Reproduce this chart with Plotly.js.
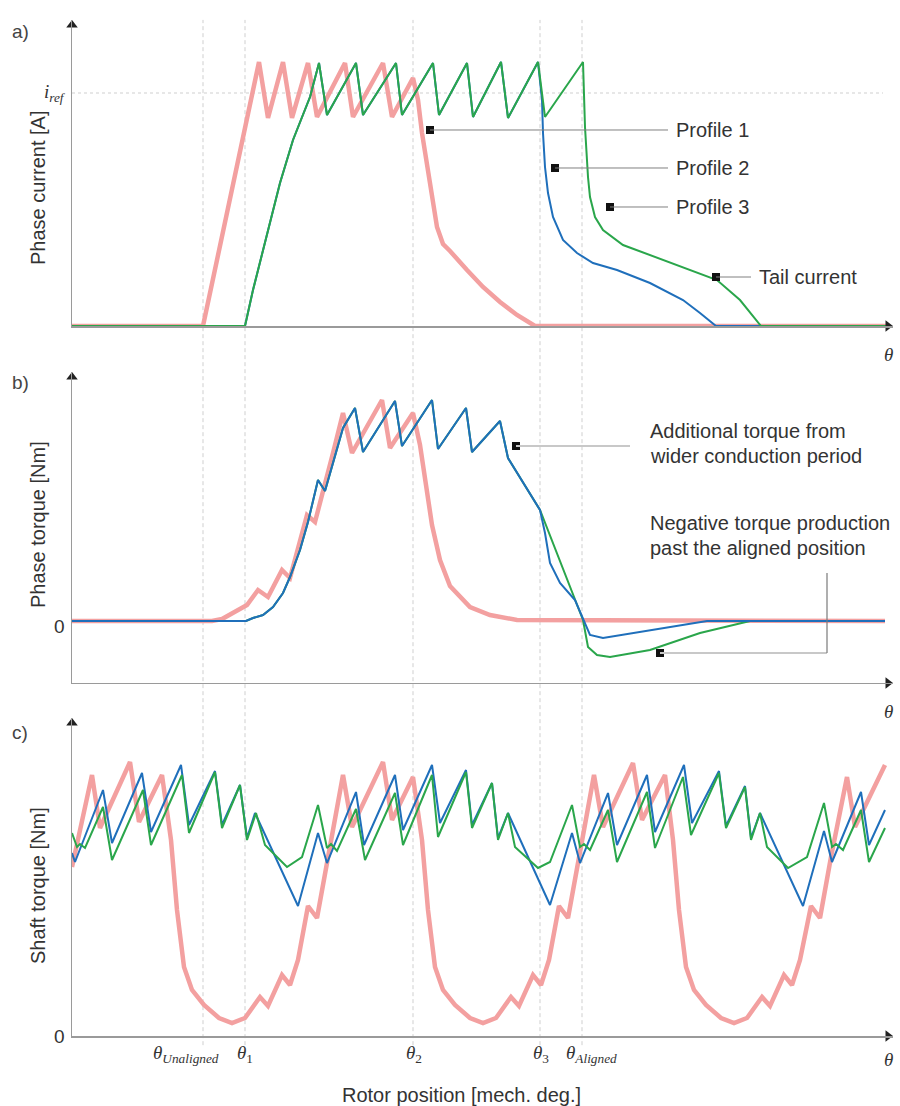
<!DOCTYPE html>
<html>
<head>
<meta charset="utf-8">
<script src="https://cdn.plot.ly/plotly-3.0.1.min.js"></script>
<style>html,body{margin:0;padding:0;background:#fff;}#chart{width:900px;height:1106px;}</style>
</head>
<body>
<div id="chart"></div>
<script>
// ---------- Panel a: phase current (arbitrary units, baseline 0, i_ref = 233) ----------
const posA_p1 = [0,131,187,196,211,220,236,245,273,281,311,320,341,346,350,358,365,371,378,395,411,428,445,463,818];
const curA_p1 = [0,0,264,208,264,208,263,209,263,209,263,209,248,226,193,139,99,82,75,56,39,24,11,0,0];
const posA_p2 = [0,173,181,195,208,221,238,247,255,284,291,324,330,361,367,395,401,429,436,466,470,471,473,476,481,491,505,521,545,578,611,628,644,818];
const curA_p2 = [0,0,36,93,143,186,229,263,211,263,211,263,211,263,211,263,209,264,208,264,226,193,159,133,109,86,73,63,56,43,26,13,0,0];
const posA_p3 = [0,173,181,195,208,221,238,247,255,284,291,324,330,361,367,395,401,429,436,466,473,511,513,516,518,523,531,551,578,611,645,668,689,818];
const curA_p3 = [0,0,36,93,143,186,229,263,211,263,211,263,211,263,211,263,209,264,208,264,209,264,199,149,129,109,96,81,71,59,46,26,0,0];
const iref = 233;

// ---------- Panel b: phase torque ----------
const posB_p1 = [0,140,150,161,175,186,196,210,218,235,243,261,271,280,310,318,341,348,355,360,368,378,398,418,445,813];
const torB_p1 = [0,0,2,8,16,31,24,51,43,106,99,168,208,168,221,173,208,176,126,96,61,35,14,6,1,0];
const posB_p2 = [0,174,181,191,201,211,218,228,236,246,253,261,271,283,291,323,330,360,366,394,400,428,436,468,473,478,488,503,511,518,531,561,595,635,813];
const torB_p2 = [0,0,3,6,14,28,44,71,99,141,130,158,193,213,169,220,175,221,172,213,169,200,163,111,88,58,38,21,3,-14,-17,-12,-6,0,0];
const posB_p3 = [0,174,181,191,201,211,218,228,236,246,253,261,271,283,291,323,330,360,366,394,400,428,436,468,511,516,525,538,578,628,678,813];
const torB_p3 = [0,0,3,6,14,28,44,71,99,141,130,158,193,213,169,220,175,221,172,213,169,200,163,111,1,-26,-34,-36,-29,-12,0,0];

// ---------- Panel c: shaft torque ----------
const posC_p1 = [0,20,28,58,67,90,99,105,112,120,132,147,160,173,188,196,210,218,226,236,245,256,271,280,311,320,341,350,356,363,371,383,398,411,424,439,447,461,469,477,487,496,507,522,531,561,570,593,601,607,614,622,634,649,662,675,690,698,712,720,728,739,748,759,775,783,813];
const torC_p1 = [169,261,208,274,214,261,196,126,69,46,31,18,13,18,39,30,61,51,76,130,118,179,261,209,274,216,259,196,126,69,46,31,18,13,18,39,30,61,51,76,130,118,179,261,209,273,216,261,196,126,69,46,31,18,13,18,39,30,61,51,76,130,118,179,259,209,271];
const posC_p2 = [0,3,31,40,70,79,109,117,143,150,168,175,183,226,246,255,284,292,323,331,360,368,394,400,420,426,436,478,500,508,536,545,575,583,612,620,647,654,673,679,688,731,752,760,789,797,813];
const torC_p2 = [183,174,246,193,263,204,271,211,265,211,251,198,223,130,203,173,244,191,261,206,271,213,266,211,253,198,223,131,203,173,243,191,261,204,271,213,265,210,250,198,223,130,205,174,244,191,226];
const posC_p3 = [0,5,8,13,31,40,71,79,110,117,143,150,168,175,184,193,215,230,246,255,259,265,284,293,323,331,360,366,394,400,420,426,436,443,466,478,500,508,512,518,536,545,575,583,611,619,647,654,673,679,688,695,716,735,752,760,764,771,789,797,813];
const torC_p3 = [203,189,192,188,229,176,246,191,261,203,264,208,251,196,223,191,169,179,231,188,192,185,227,176,243,191,261,199,264,208,253,196,223,189,168,174,231,189,192,186,226,174,244,188,259,201,263,208,249,196,223,189,168,179,233,189,192,186,226,174,208];

// ---------- Reference positions and labels ----------
const thetaPos = [131,173,341,468,510];
const thetaLabelPos = [114,173,342,469,519];
const thetaLabels = ['<i>θ</i><sub><i>Unaligned</i></sub>','<i>θ</i><sub>1</sub>','<i>θ</i><sub>2</sub>','<i>θ</i><sub>3</sub>','<i>θ</i><sub><i>Aligned</i></sub>'];

const calloutA_x = [358,483,538,644];
const calloutA_y = [196,158,119,49];
const calloutA_end = [596,596,596,679];
const calloutA_text = ['Profile 1','Profile 2','Profile 3','Tail current'];
const calloutB_x = [444,588];
const calloutB_y = [175,-32];

// axis ends (for the arrow heads)
const axisEndX = 821;
const axisTopA = 306, axisBottomB = -62, axisTopB = 249, axisTopC = 318;

const RED = '#f3a0a0', GREEN = '#2aa64b', BLUE = '#1f6fbb';
const TXT = '#333333';
const SANS = 'Liberation Sans, Arial, sans-serif';
const SERIF = 'Liberation Serif, Times New Roman, serif';

function ln(x, y, xa, ya, color, width) {
  return {x: x, y: y, xaxis: xa, yaxis: ya, type: 'scatter', mode: 'lines',
          line: {color: color, width: width}, hoverinfo: 'skip', showlegend: false};
}
function heads(xa, ya, xs, ys, syms) {
  return {x: xs, y: ys, xaxis: xa, yaxis: ya, type: 'scatter', mode: 'markers', cliponaxis: false,
          marker: {symbol: syms, size: 10, color: '#222', line: {width: 0}}, hoverinfo: 'skip', showlegend: false};
}

const traces = [
  ln(posA_p1, curA_p1, 'x', 'y', RED, 4.5),
  ln(posA_p2, curA_p2, 'x', 'y', BLUE, 2),
  ln(posA_p3, curA_p3, 'x', 'y', GREEN, 2),
  ln(posB_p1, torB_p1, 'x2', 'y2', RED, 4.5),
  ln(posB_p3, torB_p3, 'x2', 'y2', GREEN, 2),
  ln(posB_p2, torB_p2, 'x2', 'y2', BLUE, 2),
  ln(posC_p1, torC_p1, 'x3', 'y3', RED, 4.5),
  ln(posC_p2, torC_p2, 'x3', 'y3', BLUE, 2),
  ln(posC_p3, torC_p3, 'x3', 'y3', GREEN, 2),
  {x: calloutA_x, y: calloutA_y, xaxis: 'x', yaxis: 'y', type: 'scatter', mode: 'markers',
   marker: {symbol: 'square', size: 8, color: '#111', line: {width: 0}}, hoverinfo: 'skip', showlegend: false},
  {x: calloutB_x, y: calloutB_y, xaxis: 'x2', yaxis: 'y2', type: 'scatter', mode: 'markers',
   marker: {symbol: 'square', size: 8, color: '#111', line: {width: 0}}, hoverinfo: 'skip', showlegend: false},
  heads('x', 'y', [axisEndX - 5, 0], [0, axisTopA - 5], ['triangle-right', 'triangle-up']),
  heads('x2', 'y2', [axisEndX - 5, 0], [axisBottomB, axisTopB - 5], ['triangle-right', 'triangle-up']),
  heads('x3', 'y3', [axisEndX - 5, 0], [0, axisTopC - 5], ['triangle-right', 'triangle-up'])
];

const XR = [0, axisEndX];
function xax(anchor) {
  return {range: XR, anchor: anchor, showgrid: false, zeroline: false, showticklabels: false,
          ticks: '', showline: true, linecolor: '#9a9a9a', linewidth: 1.5, fixedrange: true};
}
function yax(domain, range, anchor) {
  return {domain: domain, range: range, anchor: anchor, showgrid: false, zeroline: false,
          showticklabels: false, ticks: '', showline: true, linecolor: '#9a9a9a', linewidth: 1.5, fixedrange: true};
}

const shapes = [];
thetaPos.forEach(p => shapes.push({type: 'line', xref: 'x', yref: 'paper', x0: p, x1: p, y0: 0.055, y1: 0.982,
  line: {color: '#cfcfcf', width: 1, dash: '4px,3px'}, layer: 'below'}));
shapes.push({type: 'line', xref: 'x', yref: 'y', x0: 0, x1: 811, y0: iref, y1: iref,
  line: {color: '#cfcfcf', width: 1.2, dash: '3px,3px'}, layer: 'below'});
calloutA_x.forEach((x, i) => shapes.push({type: 'line', xref: 'x', yref: 'y', x0: x, x1: calloutA_end[i],
  y0: calloutA_y[i], y1: calloutA_y[i], line: {color: '#808080', width: 1}}));
shapes.push({type: 'line', xref: 'x2', yref: 'y2', x0: calloutB_x[0], x1: 558, y0: calloutB_y[0], y1: calloutB_y[0],
  line: {color: '#c8c8c8', width: 2}});
shapes.push({type: 'line', xref: 'x2', yref: 'y2', x0: calloutB_x[1], x1: 755, y0: calloutB_y[1], y1: calloutB_y[1],
  line: {color: '#c8c8c8', width: 2}});
shapes.push({type: 'line', xref: 'x2', yref: 'y2', x0: 755, x1: 755, y0: calloutB_y[1], y1: 48,
  line: {color: '#7a7a7a', width: 1.2}});

const ann = [];
function txt(o) { ann.push(Object.assign({showarrow: false, font: {family: SANS, size: 20, color: TXT}}, o)); }

// panel letters
txt({xref: 'paper', yref: 'paper', x: -0.0633, y: 0.9711, text: 'a)', xanchor: 'center', yanchor: 'middle', font: {family: SANS, size: 19, color: '#444'}});
txt({xref: 'paper', yref: 'paper', x: -0.0633, y: 0.6546, text: 'b)', xanchor: 'center', yanchor: 'middle', font: {family: SANS, size: 19, color: '#444'}});
txt({xref: 'paper', yref: 'paper', x: -0.0633, y: 0.3373, text: 'c)', xanchor: 'center', yanchor: 'middle', font: {family: SANS, size: 19, color: '#444'}});

// y titles
txt({xref: 'paper', yref: 'paper', x: -0.0414, y: 0.830, text: 'Phase current [A]', textangle: -90, xanchor: 'center', yanchor: 'middle'});
txt({xref: 'paper', yref: 'paper', x: -0.0414, y: 0.5253, text: 'Phase torque [Nm]', textangle: -90, xanchor: 'center', yanchor: 'middle'});
txt({xref: 'paper', yref: 'paper', x: -0.0414, y: 0.1989, text: 'Shaft torque [Nm]', textangle: -90, xanchor: 'center', yanchor: 'middle'});

// axis value labels
txt({xref: 'paper', yref: 'y', x: -0.005, y: iref, text: '<i>i</i><sub><i>ref</i></sub>', xanchor: 'right', yanchor: 'middle', font: {family: SERIF, size: 19, color: TXT}});
txt({xref: 'paper', yref: 'paper', x: -0.006, y: 0.4331, text: '0', xanchor: 'right', yanchor: 'middle', font: {family: SANS, size: 19, color: TXT}});
txt({xref: 'paper', yref: 'paper', x: -0.006, y: 0.0624, text: '0', xanchor: 'right', yanchor: 'middle', font: {family: SANS, size: 19, color: TXT}});

// theta at the end of each axis
[0.6799, 0.3571, 0.0416].forEach(yy => txt({xref: 'x', yref: 'paper', x: 816, y: yy, text: '<i>θ</i>',
  xanchor: 'center', yanchor: 'middle', font: {family: SERIF, size: 19, color: TXT}}));

// theta tick labels
thetaLabelPos.forEach((p, i) => txt({xref: 'x3', yref: 'paper', x: p, y: 0.047, text: thetaLabels[i],
  xanchor: 'center', yanchor: 'middle', font: {family: SERIF, size: 19, color: TXT}}));

txt({xref: 'x3', yref: 'paper', x: 389, y: 0.0099, text: 'Rotor position [mech. deg.]', xanchor: 'center', yanchor: 'middle'});

// callout texts panel a
calloutA_text.forEach((t, i) => txt({xref: 'x', yref: 'y', x: calloutA_end[i] + 6, y: calloutA_y[i], text: t, xanchor: 'left', yanchor: 'middle'}));
// callout texts panel b
txt({xref: 'x2', yref: 'y2', x: 576, y: 190, text: 'Additional torque from', xanchor: 'left', yanchor: 'middle'});
txt({xref: 'x2', yref: 'y2', x: 576, y: 165, text: 'wider conduction period', xanchor: 'left', yanchor: 'middle'});
txt({xref: 'x2', yref: 'y2', x: 576, y: 98, text: 'Negative torque production', xanchor: 'left', yanchor: 'middle'});
txt({xref: 'x2', yref: 'y2', x: 576, y: 73, text: 'past the aligned position', xanchor: 'left', yanchor: 'middle'});

const layout = {
  width: 900, height: 1106,
  margin: {l: 72, r: 7, t: 0, b: 0, pad: 0},
  paper_bgcolor: '#ffffff', plot_bgcolor: 'rgba(0,0,0,0)',
  font: {family: SANS, color: TXT},
  showlegend: false,
  xaxis: xax('y'), xaxis2: xax('y2'), xaxis3: xax('y3'),
  yaxis: yax([0.70524, 0.98192], [0, axisTopA], 'x'),
  yaxis2: yax([0.38246, 0.66365], [axisBottomB, axisTopB], 'x2'),
  yaxis3: yax([0.06329, 0.35081], [0, axisTopC], 'x3'),
  shapes: shapes,
  annotations: ann
};

Plotly.newPlot('chart', traces, layout, {displayModeBar: false, staticPlot: true});
</script>
</body>
</html>
